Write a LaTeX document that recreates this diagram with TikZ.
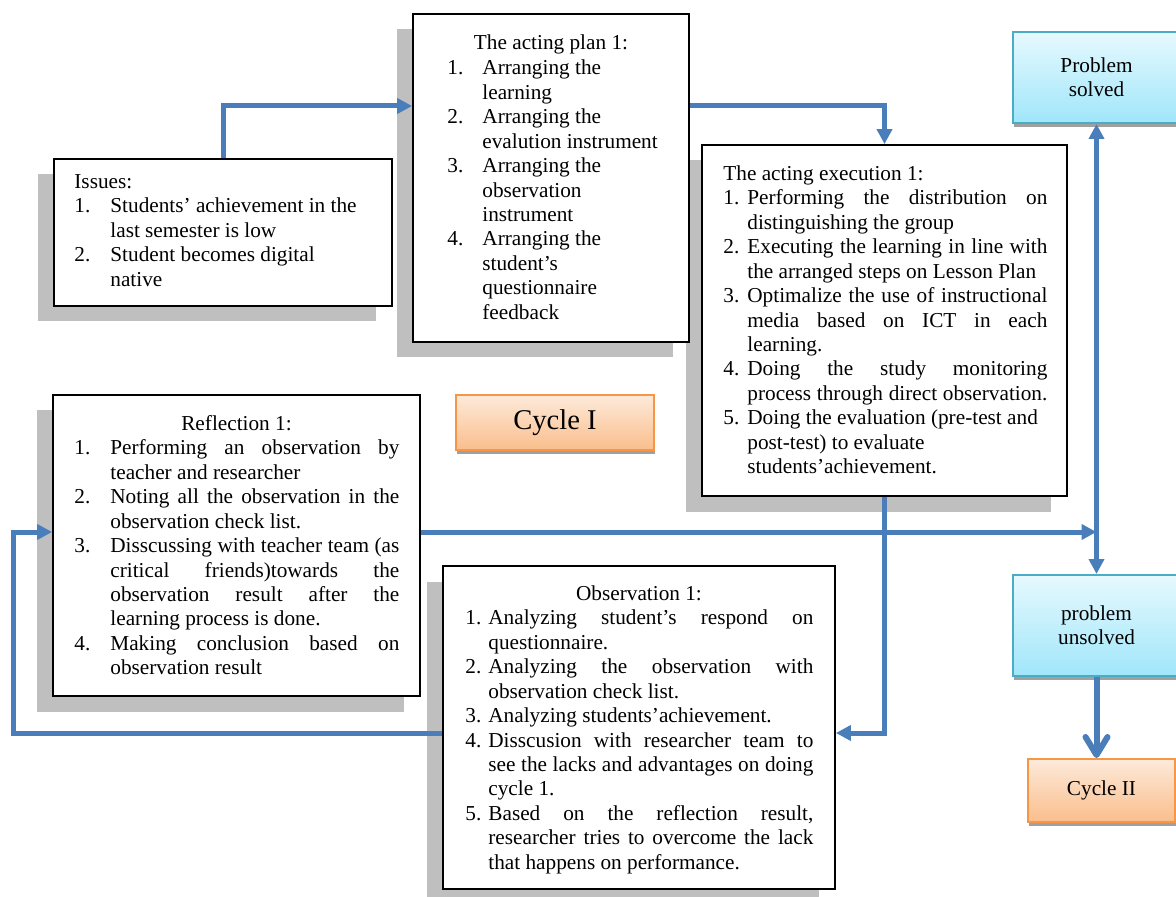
\documentclass[tikz,border=0pt]{standalone}
\usepackage{fontspec}
\setmainfont{Liberation Serif}
\usetikzlibrary{arrows.meta,shadows}
\definecolor{arrblue}{RGB}{74,126,187}
\definecolor{shgray}{RGB}{191,191,191}
\definecolor{shdark}{RGB}{160,160,160}
\definecolor{cyanb}{RGB}{75,172,198}
\definecolor{cyantop}{RGB}{230,249,254}
\definecolor{cyanbot}{RGB}{160,230,250}
\definecolor{orab}{RGB}{247,150,70}
\definecolor{oratop}{RGB}{253,234,218}
\definecolor{orabot}{RGB}{250,190,140}
\newcommand\bodyfont{\fontsize{10.63}{12.22}\selectfont}
\newcommand\numbox[2]{\makebox[#1][l]{#2}}
\newcommand\jline[2]{\makebox[#1][s]{#2}}
\begin{document}
\begin{tikzpicture}[x=0.5pt,y=-0.5pt,
  bbox/.style={draw=black, line width=0.9pt, fill=white, inner sep=0pt,
    general shadow={fill=shgray, shadow xshift=-8pt, shadow yshift=-7.75pt}},
  txt/.style={anchor=north west, inner sep=0pt, align=left, font=\bodyfont},
  ttl/.style={anchor=base, inner sep=0pt, font=\bodyfont},
  cbox/.style={draw=cyanb, line width=1pt, top color=cyantop, bottom color=cyanbot,
    inner sep=0pt, align=center, font=\bodyfont,
    general shadow={fill=shdark, shadow xshift=0.5pt, shadow yshift=-2pt}},
  obox/.style={draw=orab, line width=1pt, top color=oratop, bottom color=orabot,
    inner sep=0pt, align=center,
    general shadow={fill=shdark, shadow xshift=0.5pt, shadow yshift=-2pt}},
  arr/.style={draw=arrblue, line width=2.5pt, -{Triangle[length=7.5pt,width=7.5pt]}},
  thickarr/.style={draw=arrblue, line width=3pt, -{Straight Barb[length=9pt,width=11pt,round]}}
]
\useasboundingbox (0,0) rectangle (1176,897);

% boxes
\node[bbox, minimum width=182.5pt, minimum height=175.5pt] (exec) at (884.5,320.5) {};
\node[bbox, minimum width=169pt, minimum height=73.5pt] (issues) at (223,232.5) {};
\node[bbox, minimum width=138pt, minimum height=164pt] (plan) at (551,178) {};
\node[bbox, minimum width=183.5pt, minimum height=150.5pt] (refl) at (236.5,545.5) {};
\node[bbox, minimum width=196pt, minimum height=161.5pt] (obs) at (639,727.5) {};

\node[cbox, minimum width=83.5pt, minimum height=45.5pt] (solved) at (1096.5,77.5) {Problem\\solved};
\node[cbox, minimum width=83.5pt, minimum height=50.5pt] (unsolved) at (1096.5,625.5) {problem\\unsolved};
\node[obox, minimum width=99pt, minimum height=27.5pt, font=\fontsize{14.3}{17}\selectfont] (cyc1) at (555,422.5) {Cycle I};
\node[obox, minimum width=73.5pt, minimum height=31.5pt, font=\bodyfont] (cyc2) at (1101.5,790.5) {Cycle II};

% texts
\node[txt] (tissues) at (74,170.9) {\strut Issues:\\
\numbox{18pt}{1.}Students’ achievement in the\\
\hspace*{18pt}last semester is low\\
\numbox{18pt}{2.}Student becomes digital\\
\hspace*{18pt}native};

\node[ttl] (tplan0) at (551,50) {The acting plan 1:};
\node[txt] (tplan) at (447,57.4) {\strut\numbox{17.5pt}{1.}Arranging the\\
\hspace*{17.5pt}learning\\
\numbox{17.5pt}{2.}Arranging the\\
\hspace*{17.5pt}evalution instrument\\
\numbox{17.5pt}{3.}Arranging the\\
\hspace*{17.5pt}observation\\
\hspace*{17.5pt}instrument\\
\numbox{17.5pt}{4.}Arranging the\\
\hspace*{17.5pt}student’s\\
\hspace*{17.5pt}questionnaire\\
\hspace*{17.5pt}feedback};

\node[txt] (texec) at (723,162.9) {\strut The acting execution 1:\\
\numbox{12pt}{1.}\jline{150pt}{Performing the distribution on}\\
\hspace*{12pt}distinguishing the group\\
\numbox{12pt}{2.}\jline{150pt}{Executing the learning in line with}\\
\hspace*{12pt}the arranged steps on Lesson Plan\\
\numbox{12pt}{3.}\jline{150pt}{Optimalize the use of instructional}\\
\hspace*{12pt}\jline{150pt}{media based on ICT in each}\\
\hspace*{12pt}learning.\\
\numbox{12pt}{4.}\jline{150pt}{Doing the study monitoring}\\
\hspace*{12pt}\jline{150pt}{process through direct observation.}\\
\numbox{12pt}{5.}Doing the evaluation (pre-test and\\
\hspace*{12pt}post-test) to evaluate\\
\hspace*{12pt}students’achievement.};

\node[ttl] (trefl0) at (236.5,430) {Reflection 1:};
\node[txt] (trefl) at (74,437.4) {\strut\numbox{18pt}{1.}\jline{144.5pt}{Performing an observation by}\\
\hspace*{18pt}teacher and researcher\\
\numbox{18pt}{2.}\jline{144.5pt}{Noting all the observation in the}\\
\hspace*{18pt}observation check list.\\
\numbox{18pt}{3.}\jline{144.5pt}{Disscussing with teacher team (as}\\
\hspace*{18pt}\jline{144.5pt}{critical friends)towards the}\\
\hspace*{18pt}\jline{144.5pt}{observation result after the}\\
\hspace*{18pt}learning process is done.\\
\numbox{18pt}{4.}\jline{144.5pt}{Making conclusion based on}\\
\hspace*{18pt}observation result};

\node[ttl] (tobs0) at (639,600) {Observation 1:};
\node[txt] (tobs) at (465,607.3) {\strut\numbox{11.5pt}{1.}\jline{162.5pt}{Analyzing student’s respond on}\\
\hspace*{11.5pt}questionnaire.\\
\numbox{11.5pt}{2.}\jline{162.5pt}{Analyzing the observation with}\\
\hspace*{11.5pt}observation check list.\\
\numbox{11.5pt}{3.}Analyzing students’achievement.\\
\numbox{11.5pt}{4.}\jline{162.5pt}{Disscusion with researcher team to}\\
\hspace*{11.5pt}\jline{162.5pt}{see the lacks and advantages on doing}\\
\hspace*{11.5pt}cycle 1.\\
\numbox{11.5pt}{5.}\jline{162.5pt}{Based on the reflection result,}\\
\hspace*{11.5pt}\jline{162.5pt}{researcher tries to overcome the lack}\\
\hspace*{11.5pt}that happens on performance.};

% connectors
\coordinate (yA) at (0,106);
\coordinate (yB) at (0,733);
\coordinate (yC) at (0,532);
\coordinate (xL) at (13,733);
\draw[arr] (issues.north) |- (plan.west |- yA);
\draw[arr] (plan.east |- yA) -| (exec.north);
\draw[arr] (exec.south) |- (obs.east |- yB);
\draw[arr] (obs.west |- yB) -- (xL) |- (refl.west |- yC);
\draw[arr] (refl.east |- yC) -- (solved.south |- yC);
\draw[arr, {Triangle[length=7.5pt,width=7.5pt]}-{Triangle[length=7.5pt,width=7.5pt]}] (solved.south) -- (unsolved.north);
\draw[thickarr] (unsolved.south) -- (unsolved.south |- cyc2.north);
\end{tikzpicture}
\end{document}
